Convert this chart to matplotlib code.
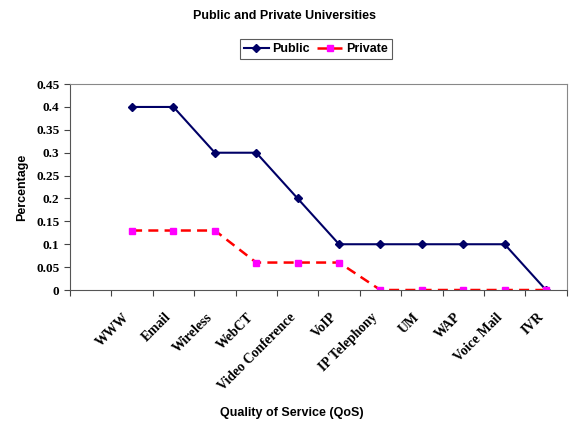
import matplotlib
matplotlib.use("Agg")
from matplotlib import pyplot as plt
import numpy as np

services = ['WWW', 'Email', 'Wireless', 'WebCT', 'Video Conference', 'VoIP',
            'IP Telephony', 'UM', 'WAP', 'Voice Mail', 'IVR']
public = [0.4, 0.4, 0.3, 0.3, 0.2, 0.1, 0.1, 0.1, 0.1, 0.1, 0.0]
private = [0.13, 0.13, 0.13, 0.06, 0.06, 0.06, 0.0, 0.0, 0.0, 0.0, 0.0]
yticks = [0, 0.05, 0.1, 0.15, 0.2, 0.25, 0.3, 0.35, 0.4, 0.45]
ytick_labels = ['0', '0.05', '0.1', '0.15', '0.2', '0.25', '0.3', '0.35', '0.4', '0.45']

fig = plt.figure(figsize=(5.69, 4.29), dpi=100)
ax = fig.add_axes([0.123, 0.324, 0.873, 0.480])

x = np.arange(len(services))
ax.plot(x, public, color='#000066', lw=1.5, marker='D', ms=4.5, label='Public')
ax.plot(x, private, color='#ff0000', lw=1.8, ls=(0, (4, 2.5)), marker='s', ms=5,
        mfc='#ff00ff', mec='#ff00ff', label='Private')

ax.set_xlim(-1.5, len(services) - 0.5)
ax.set_ylim(0, 0.45)

# category boundaries get the tick marks, names sit in the middle
ax.set_xticks(np.arange(-1.5, len(services), 1.0))
ax.set_xticklabels([])
ax.tick_params(axis='x', length=4, direction='out', color='#444444')
for xi, name in zip(x, services):
    ax.text(xi - 0.22, -0.045, name, rotation=45, ha='right', va='top',
            rotation_mode='anchor', fontsize=9.8, fontweight='bold',
            family='Liberation Serif', transform=ax.transData)

ax.set_yticks(yticks)
ax.set_yticklabels(ytick_labels, fontsize=9.5, fontweight='bold', family='Liberation Serif')
ax.tick_params(axis='y', length=4, direction='out', color='#444444')

for s in ['top', 'right']:
    ax.spines[s].set_color('#888888')
for s in ['left', 'bottom']:
    ax.spines[s].set_color('#555555')

ax.set_ylabel('Percentage', fontsize=9, fontweight='bold', family='Liberation Sans', labelpad=6)
fig.text(0.513, 0.03, 'Quality of Service (QoS)', ha='center', fontsize=9,
         fontweight='bold', family='Liberation Sans')
fig.text(0.5, 0.955, 'Public and Private Universities', ha='center', fontsize=9,
         fontweight='bold', family='Liberation Sans')

leg = fig.legend(loc='center', bbox_to_anchor=(0.555, 0.886), ncol=2, frameon=True,
                 fancybox=False, edgecolor='#333333', handlelength=2.0, columnspacing=0.6,
                 handletextpad=0.3, borderpad=0.3,
                 prop={'family': 'Liberation Sans', 'weight': 'bold', 'size': 9})
leg.get_frame().set_linewidth(0.8)

plt.savefig('out.png', dpi=100)
